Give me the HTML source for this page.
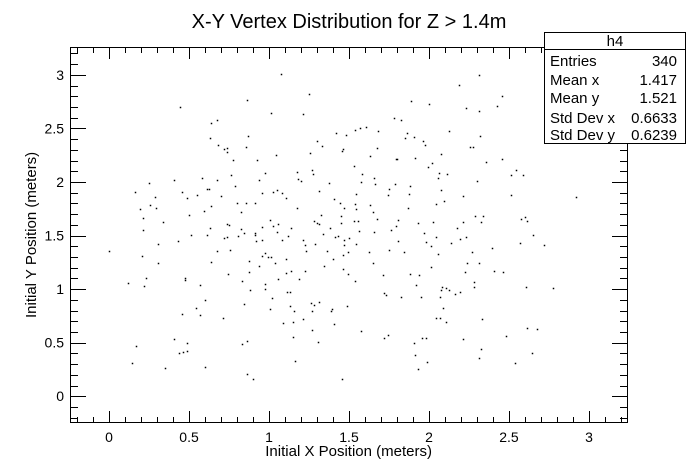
<!DOCTYPE html>
<html><head><meta charset="utf-8"><style>
html,body{margin:0;padding:0;background:#fff;}
svg{display:block;font-family:"Liberation Sans",sans-serif;}
</style></head><body>
<svg id="chart" width="698" height="471" viewBox="0 0 698 471">
<rect x="0" y="0" width="698" height="471" fill="#fff"/>
<text x="349" y="28" font-size="20" text-anchor="middle">X-Y Vertex Distribution for Z &gt; 1.4m</text>
<g id="axes"></g>
<g id="points"></g>
<text x="432" y="456" font-size="15" text-anchor="end">Initial X Position (meters)</text>
<text transform="translate(36,318) rotate(-90)" font-size="15" text-anchor="start">Initial Y Position (meters)</text>
<g>
<rect x="544.5" y="32.5" width="141" height="111" fill="#fff" stroke="#000" stroke-width="1"/>
<line x1="544.5" y1="49.5" x2="685.5" y2="49.5" stroke="#000"/>
<text x="615" y="46" font-size="15" text-anchor="middle">h4</text>
<text x="550" y="66" font-size="15">Entries</text>
<text x="677" y="66" font-size="15" text-anchor="end">340</text>
<text x="550" y="85" font-size="15">Mean x</text>
<text x="677" y="85" font-size="15" text-anchor="end">1.417</text>
<text x="550" y="103" font-size="15">Mean y</text>
<text x="677" y="103" font-size="15" text-anchor="end">1.521</text>
<text x="550" y="123" font-size="15">Std Dev x</text>
<text x="677" y="123" font-size="15" text-anchor="end">0.6633</text>
<text x="550" y="140" font-size="15">Std Dev y</text>
<text x="677" y="140" font-size="15" text-anchor="end">0.6239</text>
</g>
</svg>
<script>
const xTickLabels = ["0","0.5","1","1.5","2","2.5","3"];
const yTickLabels = ["0","0.5","1","1.5","2","2.5","3"];
const xDomain = [-0.244, 3.244];
const yDomain = [-0.25, 3.26];
const xs = [0.863,0.444,0.675,0.638,0.869,0.631,0.681,0.856,0.719,0.736,0.738,0.775,0.925,0.763,0.581,0.406,0.675,0.938,0.250,0.788,0.613,0.625,0.163,0.456,0.550,0.700,0.288,0.488,0.800,0.856,0.913,0.256,0.638,0.194,0.294,0.594,0.825,0.500,0.213,0.338,0.738,0.750,0.631,0.825,0.213,0.844,0.913,0.913,0.513,0.613,0.806,0.738,
1.075,1.250,1.888,2.000,1.013,1.213,1.781,1.825,1.606,1.569,1.538,1.681,1.419,1.863,1.481,1.850,1.906,1.300,1.963,1.975,1.331,1.463,1.456,1.675,1.256,1.044,1.631,2.075,1.794,1.800,1.913,2.019,1.531,1.994,0.975,1.175,1.269,1.275,1.581,2.063,2.056,1.181,1.200,1.656,1.575,1.375,1.663,1.788,1.881,1.750,2.075,1.050,1.025,1.081,0.956,1.313,1.544,1.875,1.744,1.106,1.406,1.444,1.538,1.631,2.044,2.094,1.175,1.469,1.544,1.869,1.650,1.325,1.450,1.006,1.281,1.300,1.313,1.531,1.556,1.675,1.806,1.450,1.931,2.025,1.056,0.956,1.025,1.794,1.138,1.381,1.050,1.563,1.656,1.763,1.338,1.969,1.119,1.413,1.431,2.044,
2.313,2.188,2.456,2.231,2.313,2.425,2.125,2.319,2.256,2.275,2.456,2.356,2.544,2.113,2.513,2.588,2.300,2.213,2.513,2.919,2.288,2.338,2.325,2.213,2.575,2.600,2.613,2.175,2.231,2.650,
0.306,0.431,0.719,0.919,0.000,0.206,0.675,0.756,0.306,0.638,0.875,0.938,0.744,0.875,0.231,0.475,0.475,0.119,0.831,0.219,0.569,0.881,0.600,0.844,0.544,0.456,0.569,0.713,0.406,0.169,0.488,0.831,0.863,0.438,0.463,0.488,0.144,0.350,0.600,0.863,0.900,
0.956,1.081,1.213,1.225,1.288,1.500,1.469,1.469,1.544,1.806,1.981,2.013,0.975,0.956,0.994,1.013,1.106,1.231,1.363,1.494,1.463,1.400,1.625,1.750,1.844,2.056,1.038,1.344,1.650,2.013,1.106,1.138,1.225,1.463,1.494,1.713,1.881,1.938,1.056,1.188,1.538,0.975,0.975,1.919,1.113,1.131,1.719,1.731,2.081,2.075,1.019,1.825,1.950,2.069,1.263,1.281,1.313,1.131,1.488,1.006,1.156,1.269,1.388,1.394,2.088,2.044,2.069,1.213,1.088,1.150,1.406,1.269,1.575,1.744,1.719,1.956,1.981,1.150,1.306,1.906,1.913,1.163,1.988,1.931,1.456,
2.138,2.194,2.569,2.719,2.394,2.269,2.238,2.313,2.225,2.406,2.463,2.281,2.281,2.106,2.125,2.163,2.194,2.606,2.775,2.106,2.331,2.613,2.675,2.481,2.213,2.325,2.313,2.644,2.538];
const ys = [2.765,2.700,2.579,2.551,2.430,2.411,2.346,2.327,2.308,2.318,2.280,2.206,2.206,2.066,2.038,2.020,2.020,2.020,1.992,1.964,1.936,1.936,1.908,1.908,1.880,1.871,1.862,1.852,1.805,1.805,1.805,1.787,1.777,1.749,1.759,1.731,1.721,1.693,1.665,1.628,1.609,1.600,1.572,1.563,1.553,1.526,1.526,1.507,1.507,1.507,1.498,1.488,
3.007,2.821,2.756,2.728,2.644,2.635,2.597,2.579,2.514,2.504,2.486,2.476,2.458,2.458,2.439,2.411,2.420,2.383,2.383,2.346,2.336,2.308,2.290,2.318,2.271,2.253,2.243,2.262,2.215,2.215,2.225,2.178,2.150,2.141,2.085,2.094,2.113,2.075,2.075,2.085,2.038,2.029,2.010,2.038,2.001,1.992,1.982,1.982,1.964,1.936,1.926,1.926,1.908,1.898,1.898,1.917,1.889,1.889,1.880,1.852,1.843,1.805,1.796,1.787,1.796,1.824,1.759,1.759,1.749,1.759,1.721,1.693,1.684,1.647,1.637,1.619,1.609,1.637,1.637,1.656,1.647,1.619,1.619,1.628,1.609,1.581,1.591,1.591,1.572,1.572,1.535,1.544,1.535,1.553,1.516,1.526,1.498,1.488,1.498,1.488,
2.998,2.905,2.802,2.691,2.663,2.709,2.476,2.430,2.327,2.327,2.215,2.187,2.113,2.075,2.066,2.066,2.010,1.871,1.880,1.861,1.684,1.684,1.628,1.628,1.656,1.675,1.637,1.572,1.488,1.507,
1.423,1.451,1.479,1.451,1.358,1.311,1.358,1.367,1.246,1.255,1.265,1.218,1.144,1.162,1.106,1.106,1.088,1.060,1.078,1.032,1.041,0.994,0.901,0.864,0.827,0.771,0.761,0.733,0.538,0.472,0.500,0.491,0.519,0.407,0.417,0.426,0.314,0.267,0.277,0.212,0.165,
1.460,1.460,1.460,1.414,1.423,1.479,1.460,1.414,1.423,1.451,1.442,1.404,1.339,1.311,1.302,1.302,1.283,1.358,1.358,1.349,1.321,1.283,1.349,1.367,1.349,1.330,1.246,1.218,1.246,1.209,1.153,1.172,1.172,1.190,1.144,1.134,1.144,1.134,1.097,1.097,1.078,1.050,1.004,1.041,0.976,0.976,0.966,0.948,1.022,0.994,0.920,0.929,0.929,0.929,0.873,0.855,0.883,0.845,0.845,0.817,0.799,0.799,0.799,0.817,0.827,0.733,0.733,0.724,0.687,0.696,0.677,0.622,0.612,0.575,0.547,0.547,0.547,0.556,0.510,0.500,0.389,0.333,0.323,0.258,0.165,
1.432,1.470,1.432,1.414,1.386,1.349,1.246,1.246,1.162,1.172,1.162,1.069,1.022,1.013,0.994,0.957,0.976,1.022,1.013,0.696,0.724,0.640,0.631,0.566,0.538,0.445,0.361,0.407,0.314];

const NS = "http://www.w3.org/2000/svg";
const L = 70, R = 628, T = 47, B = 423;
function xScale(v){ return L + (v - xDomain[0]) / (xDomain[1] - xDomain[0]) * (R - L); }
function yScale(v){ return B - (v - yDomain[0]) / (yDomain[1] - yDomain[0]) * (B - T); }
function mk(tag, attrs, parent){ const e = document.createElementNS(NS, tag); for (const k in attrs) e.setAttribute(k, attrs[k]); parent.appendChild(e); return e; }

const axes = document.getElementById("axes");
const frame = mk("rect", {x: L + 0.5, y: T + 0.5, width: R - L - 1, height: B - T - 1, fill: "none", stroke: "#000", "stroke-width": 1}, axes);



for (let i = -2; i <= 32; i++) {
  const v = i / 10;
  if (v < xDomain[0] || v > xDomain[1]) continue;
  const px = Math.round(xScale(v)) + 0.5;
  const major = (i % 5 === 0);
  const len = major ? 12 : 6;
  const t1 = mk("line", {x1: px, y1: B, x2: px, y2: B - len, stroke: "#000"}, axes);
  
  
  const t2 = mk("line", {x1: px, y1: T, x2: px, y2: T + len, stroke: "#000"}, axes);
  
  
}
xTickLabels.forEach(function(lab){
  const tx = mk("text", {x: xScale(parseFloat(lab)), y: 442, "font-size": 14, "text-anchor": "middle"}, axes);
  tx.textContent = lab;
  
  
});
for (let i = -2; i <= 32; i++) {
  const v = i / 10;
  if (v < yDomain[0] || v > yDomain[1]) continue;
  const py = Math.round(yScale(v)) + 0.5;
  const major = (i % 5 === 0);
  const len = major ? 16 : 8;
  const t1 = mk("line", {x1: L, y1: py, x2: L + len, y2: py, stroke: "#000"}, axes);
  
  
  const t2 = mk("line", {x1: R, y1: py, x2: R - len, y2: py, stroke: "#000"}, axes);
  
  
}
yTickLabels.forEach(function(lab){
  const ty = mk("text", {x: 64, y: yScale(parseFloat(lab)) + 5, "font-size": 14, "text-anchor": "end"}, axes);
  ty.textContent = lab;
  
  
});

const pts = document.getElementById("points");
for (let i = 0; i < xs.length; i++) {
  const p = mk("rect", {x: Math.round(xScale(xs[i])) - 0.25, y: Math.round(yScale(ys[i])) - 0.25, width: 1.5, height: 1.5, fill: "#000"}, pts);
  
  
}
</script>
</body></html>
